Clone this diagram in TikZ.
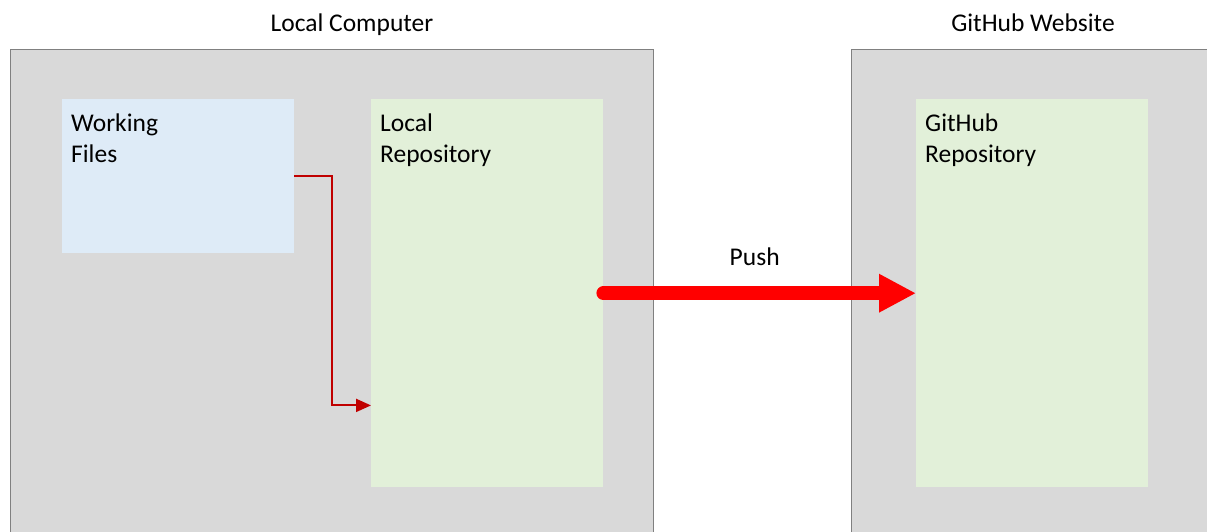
\documentclass[tikz,border=0pt]{standalone}
\usepackage{fontspec}
\setmainfont{Carlito}
\usepackage{xcolor}
\usepackage{tikz}
\usetikzlibrary{arrows.meta, positioning, calc}

\definecolor{panelgray}{HTML}{D9D9D9}
\definecolor{panelline}{HTML}{808080}
\definecolor{workblue}{HTML}{DEEBF7}
\definecolor{repogreen}{HTML}{E2F0D9}
\definecolor{commitred}{HTML}{C00000}
\definecolor{pushred}{HTML}{FF0000}

\begin{document}
\begin{tikzpicture}[x=1pt, y=-1pt, font=\fontsize{25.5}{31}\selectfont]
    \tikzstyle{panel} = [rectangle, draw=panelline, line width=1pt, fill=panelgray, anchor=north west, inner sep=0]
    \tikzstyle{box} = [rectangle, inner sep=0, anchor=north west, minimum width=232pt]
    \tikzstyle{boxtext} = [anchor=north west, inner sep=0, align=left, xshift=9pt, yshift=-15pt]
    \tikzstyle{title} = [anchor=base, inner sep=0]

    \useasboundingbox (0,0) rectangle (1207,531);
    \clip (0,0) rectangle (1207,531);

    % Local computer
    \node[panel, minimum width=643pt, minimum height=520pt] (computer) at (10,49) {};
    \node[title] (computerlabel) at (352,31) {Local Computer};

    % GitHub website
    \node[panel, minimum width=400pt, minimum height=520pt] (website) at (851,49) {};
    \node[title] (websitelabel) at (1033,31) {GitHub Website};

    % Working files
    \node[box, fill=workblue, minimum height=154pt, label={[boxtext]north west:Working\\Files}] (working) at (62,99) {};

    % Local repository
    \node[box, fill=repogreen, minimum height=388pt, label={[boxtext]north west:Local\\Repository}] (localrepo) at (371,99) {};

    % GitHub repository
    \node[box, fill=repogreen, minimum height=388pt, label={[boxtext]north west:GitHub\\Repository}] (githubrepo) at (916,99) {};

    % Commit
    \coordinate (bend) at ($(working.east)+(38,0)$);
    \draw[commitred, line width=2pt, -{Triangle[length=15pt, width=13pt]}] (working.east) -- (bend) |- ($(localrepo.south west)+(0,-82)$);

    % Push
    \draw[pushred, line width=14pt, line cap=round, -{Triangle[length=37pt, width=36pt]}] (localrepo.east) -- (githubrepo.west) node[midway, above=21pt, inner sep=0, xshift=-5pt, black] (pushlabel) {Push};
\end{tikzpicture}
\end{document}
